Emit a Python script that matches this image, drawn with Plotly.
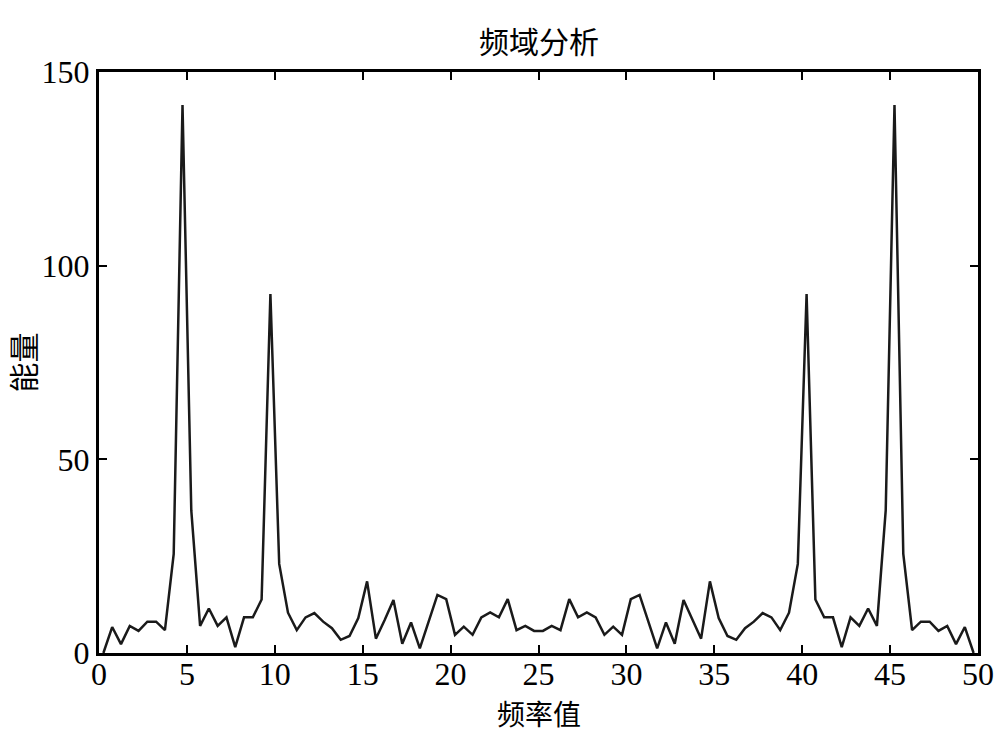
import plotly.graph_objects as go

# frequency grid (Hz) and spectrum magnitude
freq = [0.25 + 0.5 * k for k in range(100)]

energy = [
    0, 6.7, 2.3, 7, 5.7, 8.1, 8.1, 5.9, 25.6, 141.5,
    36.8, 7, 11.5, 7, 9.2, 1.5, 9.2, 9.2, 13.8, 92.7,
    23, 10.4, 5.9, 9.2, 10.3, 8.1, 6.4, 3.4, 4.4, 9,
    18.5, 3.7, 8.5, 13.7, 2.4, 7.9, 1.2, 8.1, 15, 13.9,
    4.7, 6.8, 4.7, 9.2, 10.5, 9.2, 13.9, 5.9, 7, 5.7,
    5.7, 7, 5.9, 13.9, 9.2, 10.5, 9.2, 4.7, 6.8, 4.7,
    13.9, 15, 8.1, 1.2, 7.9, 2.4, 13.7, 8.5, 3.7, 18.5,
    9, 4.4, 3.4, 6.4, 8.1, 10.3, 9.2, 5.9, 10.4, 23,
    92.7, 13.8, 9.2, 9.2, 1.5, 9.2, 7, 11.5, 7, 36.8,
    141.5, 25.6, 5.9, 8.1, 8.1, 5.7, 7, 2.3, 6.7, 0,
]

x_ticks = [0, 5, 10, 15, 20, 25, 30, 35, 40, 45, 50]
y_ticks = [0, 50, 100, 150]

cjk = "Noto Sans CJK SC"
serif = "Liberation Serif"

fig = go.Figure()
fig.add_trace(go.Scatter(
    x=freq, y=energy, mode="lines",
    line=dict(color="#1a1a1a", width=2.5),
    showlegend=False,
))

axis_common = dict(
    showgrid=False, zeroline=False, automargin=False,
    showline=True, linecolor="black", linewidth=3, mirror="ticks",
    ticks="inside", ticklen=8, tickwidth=2, tickcolor="black",
    tickfont=dict(family=serif, size=32, color="black"),
)

fig.update_layout(
    width=1004, height=732,
    paper_bgcolor="white", plot_bgcolor="white",
    margin=dict(l=99, r=26, t=72, b=79),
    xaxis=dict(range=[0, 50], tickvals=x_ticks, ticklabelstandoff=-9, **axis_common),
    yaxis=dict(range=[0, 150], tickvals=y_ticks, ticklabelstandoff=0, **axis_common),
    annotations=[
        dict(text="频域分析", xref="paper", yref="paper", x=0.5, y=1.0, yshift=32,
             xanchor="center", yanchor="middle", showarrow=False,
             font=dict(family=cjk, size=30, color="black")),
        dict(text="频率值", xref="paper", yref="paper", x=0.5, y=0, yshift=-60,
             xanchor="center", yanchor="middle", showarrow=False,
             font=dict(family=cjk, size=28, color="black")),
        dict(text="能量", xref="paper", yref="paper", x=0, y=0.5, xshift=-78,
             xanchor="center", yanchor="middle", showarrow=False, textangle=-90,
             font=dict(family=cjk, size=30, color="black")),
    ],
)

# drop the page's default body margin so the figure sits at the window's corner
fig.write_html("out.html", config={"displayModeBar": False},
               post_script="document.body.style.margin='0';")
